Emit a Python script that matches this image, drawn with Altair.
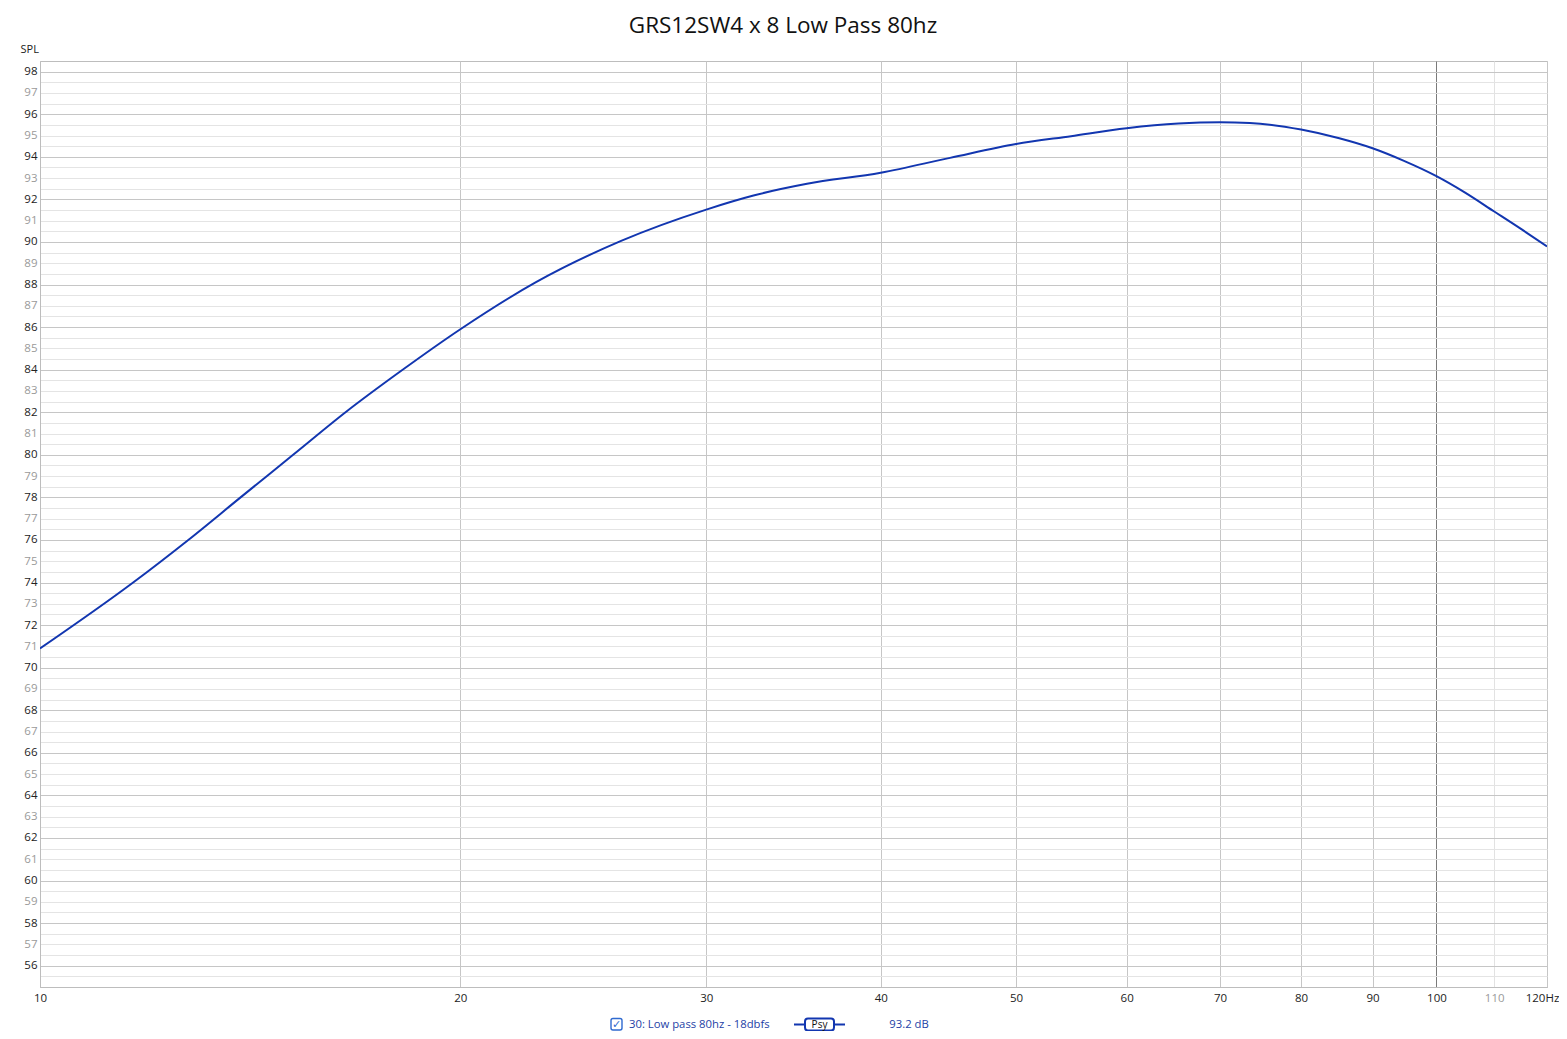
import altair as alt
import pandas as pd

# ---- data ----
freq_hz = [10, 11.66, 12.77, 13.92, 15.18, 16.55, 18.1, 20, 22.64, 26.07, 30,
           32.43, 35.42, 40, 44.84, 50, 54.75, 60, 65.35, 70, 73.5, 80, 85.2, 90,
           94.7, 100, 104.7, 110, 115.1, 120]
spl_db = [70.9, 74.0, 76.0, 78.0, 80.0, 82.0, 83.9, 85.9, 88.1, 90.05, 91.52,
          92.18, 92.73, 93.25, 93.95, 94.6, 94.97, 95.34, 95.56, 95.62, 95.59, 95.28,
          94.87, 94.40, 93.82, 93.09, 92.34, 91.43, 90.59, 89.79]

x_ticks = [10, 20, 30, 40, 50, 60, 70, 80, 90, 100, 110, 120]
y_ticks = [v / 2 for v in range(111, 197)]  # 55.5 ... 98.0 in 0.5 dB steps

chart_title = "GRS12SW4 x 8 Low Pass 80hz"
y_title = "SPL"
legend_label = "30: Low pass 80hz - 18dbfs"
legend_tag = "Psy"
legend_value = "93.2 dB"

FONT = "Open Sans"
BLUE = "#1236b0"
TEXT_BLUE = "#1e3fa6"

df = pd.DataFrame({"freq": freq_hz, "spl": spl_db})

W, H = 1507, 926

x_scale = alt.Scale(type="log", domain=[10, 120], nice=False)
y_scale = alt.Scale(domain=[55, 98.5], nice=False, zero=False)

x_axis = alt.Axis(
    values=x_ticks, title=None,
    labelExpr="datum.value == 120 ? '120Hz' : format(datum.value, 'd')",
    labelFlush=False, labelOverlap=False, ticks=False, labelPadding=5,
    labelFont=FONT, labelFontSize=11.5,
    labelOffset={"condition": {"test": "datum.value == 120", "value": -5}, "value": 0},
    labelColor={"condition": {"test": "datum.value == 110", "value": "#9a9a9a"}, "value": "#222222"},
    grid=True,
    gridColor={"condition": [
        {"test": "datum.value == 100", "value": "#7a7a7a"},
        {"test": "datum.value == 110", "value": "#e2e2e2"}], "value": "#c6c6c6"},
    gridWidth=1, domainColor="#bdbdbd", domainWidth=1,
)

y_axis = alt.Axis(
    values=y_ticks, title=y_title, labelOverlap=False, ticks=False, labelPadding=3,
    labelExpr="datum.value % 1 == 0 ? format(datum.value, 'd') : ''",
    labelFont=FONT, labelFontSize=11.5,
    labelColor={"condition": {"test": "datum.value % 2 == 0", "value": "#222222"}, "value": "#9a9a9a"},
    grid=True,
    gridColor={"condition": {"test": "datum.value % 2 == 0", "value": "#c6c6c6"}, "value": "#e4e4e4"},
    gridWidth=1, domainColor="#bdbdbd",
    titleAngle=0, titleX=-20, titleY=-12, titleAlign="left", titleBaseline="middle",
    titleFont=FONT, titleFontSize=11, titleFontWeight="normal", titleColor="#222222",
)

curve = alt.Chart(df).mark_line(
    color=BLUE, strokeWidth=2, interpolate="monotone", clip=True
).encode(
    x=alt.X("freq:Q", scale=x_scale, axis=x_axis),
    y=alt.Y("spl:Q", scale=y_scale, axis=y_axis),
)

one = pd.DataFrame({"k": [0]})

title_mark = alt.Chart(pd.DataFrame({"t": [chart_title]})).mark_text(
    font=FONT, fontSize=22.5, color="#111111", align="center", baseline="alphabetic"
).encode(x=alt.value(743), y=alt.value(-28.5), text="t:N")

# legend row under the plot
LY = 963.5
check_box = alt.Chart(one).mark_rect(
    fill="white", stroke="#2f6ad0", strokeWidth=1.4, cornerRadius=2
).encode(x=alt.value(571), x2=alt.value(582), y=alt.value(LY - 6), y2=alt.value(LY + 5.5))

check_mark = alt.Chart(pd.DataFrame({"t": ["\u2713"]})).mark_text(
    font="DejaVu Sans", fontSize=11, color="#2f6ad0", align="center", baseline="middle"
).encode(x=alt.value(576.5), y=alt.value(LY), text="t:N")

legend_text = alt.Chart(pd.DataFrame({"t": [legend_label]})).mark_text(
    font=FONT, fontSize=11.3, color=TEXT_BLUE, align="left", baseline="middle"
).encode(x=alt.value(589), y=alt.value(LY), text="t:N")

legend_line = alt.Chart(one).mark_rule(color=BLUE, strokeWidth=2).encode(
    x=alt.value(754), x2=alt.value(805), y=alt.value(LY))

legend_box = alt.Chart(one).mark_rect(
    fill="white", stroke=BLUE, strokeWidth=2, cornerRadius=3
).encode(x=alt.value(765), x2=alt.value(794), y=alt.value(LY - 6), y2=alt.value(LY + 6))

legend_tag_text = alt.Chart(pd.DataFrame({"t": [legend_tag]})).mark_text(
    font=FONT, fontSize=10, color="#111111", align="center", baseline="middle"
).encode(x=alt.value(779.5), y=alt.value(LY), text="t:N")

legend_value_text = alt.Chart(pd.DataFrame({"t": [legend_value]})).mark_text(
    font=FONT, fontSize=11.3, color=TEXT_BLUE, align="center", baseline="middle"
).encode(x=alt.value(869), y=alt.value(LY), text="t:N")

chart = alt.layer(
    curve, title_mark, check_box, check_mark, legend_text,
    legend_line, legend_box, legend_tag_text, legend_value_text,
).properties(
    width=W, height=H,
    autosize=alt.AutoSizeParams(type="none"),
    padding={"left": 32, "top": 53, "right": 12, "bottom": 44},
    background="white",
).configure_view(stroke="#bdbdbd", strokeWidth=1)

chart.save("out.html", embed_options={"renderer": "svg", "actions": False})
